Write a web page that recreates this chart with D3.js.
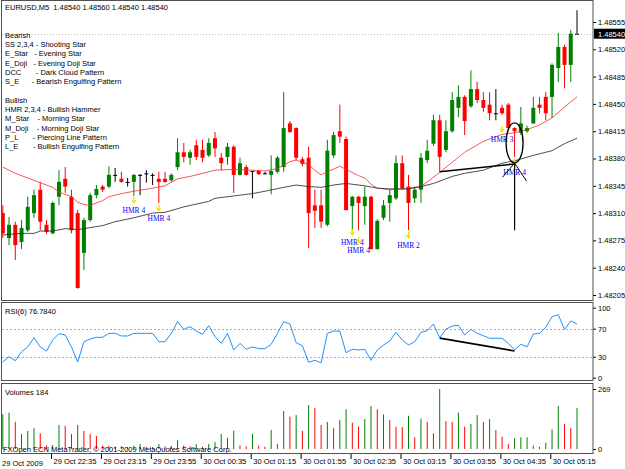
<!DOCTYPE html>
<html>
<head>
<meta charset="utf-8">
<script src="https://cdnjs.cloudflare.com/ajax/libs/d3/7.8.5/d3.min.js"></script>
<style>
  html, body { margin: 0; padding: 0; background: #fff; }
  svg { display: block; }
  text { font-family: "Liberation Sans", Arial, sans-serif; font-size: 7.5px; fill: #000; }
  .axis path.domain { display: none; }
  .axis line { stroke: #000; }
</style>
</head>
<body>
<svg id="chart" width="625" height="469"></svg>
<script>
// EURUSD M5, 93 bars, 29 Oct 22:00 .. 30 Oct 05:40
var opens  = [1.48310,1.48278,1.48295,1.48273,1.48288,1.48310,1.48340,1.48295,1.48284,1.48331,
              1.48354,1.48331,1.48310,1.48259,1.48301,1.48333,1.48344,1.48344,1.48359,1.48354,
              1.48350,1.48350,1.48359,1.48361,1.48359,1.48354,1.48354,1.48352,1.48369,1.48388,
              1.48381,1.48397,1.48391,1.48384,1.48406,1.48381,1.48382,1.48395,1.48359,1.48369,
              1.48364,1.48364,1.48361,1.48359,1.48363,1.48369,1.48425,1.48419,1.48379,1.48381,
              1.48320,1.48320,1.48295,1.48384,1.48415,1.48405,1.48319,1.48331,1.48319,1.48331,
              1.48264,1.48304,1.48323,1.48329,1.48374,1.48344,1.48329,1.48340,1.48378,1.48399,
              1.48429,1.48391,1.48415,1.48445,1.48459,1.48447,1.48469,1.48455,1.48449,1.48438,
              1.48445,1.48449,1.48419,1.48413,1.48415,1.48425,1.48449,1.48459,1.48459,1.48496,
              1.48523,1.48500,1.48540];
var highs  = [1.48320,1.48305,1.48299,1.48301,1.48331,1.48340,1.48350,1.48301,1.48325,1.48365,
              1.48369,1.48340,1.48314,1.48304,1.48336,1.48346,1.48346,1.48370,1.48368,1.48363,
              1.48355,1.48360,1.48360,1.48365,1.48361,1.48363,1.48363,1.48361,1.48406,1.48400,
              1.48391,1.48404,1.48404,1.48406,1.48414,1.48387,1.48400,1.48397,1.48381,1.48372,
              1.48364,1.48365,1.48363,1.48384,1.48383,1.48465,1.48428,1.48420,1.48382,1.48395,
              1.48340,1.48340,1.48404,1.48414,1.48449,1.48408,1.48332,1.48332,1.48344,1.48332,
              1.48302,1.48327,1.48340,1.48384,1.48384,1.48359,1.48344,1.48387,1.48404,1.48436,
              1.48436,1.48429,1.48465,1.48474,1.48461,1.48493,1.48478,1.48465,1.48465,1.48469,
              1.48449,1.48451,1.48420,1.48446,1.48422,1.48459,1.48459,1.48465,1.48502,1.48541,
              1.48526,1.48545,1.48570];
var lows   = [1.48278,1.48269,1.48250,1.48264,1.48286,1.48304,1.48288,1.48283,1.48283,1.48320,
              1.48336,1.48284,1.48213,1.48237,1.48299,1.48329,1.48337,1.48342,1.48350,1.48349,
              1.48344,1.48332,1.48333,1.48349,1.48346,1.48323,1.48349,1.48350,1.48365,1.48375,
              1.48372,1.48378,1.48375,1.48382,1.48382,1.48365,1.48372,1.48336,1.48358,1.48358,
              1.48329,1.48359,1.48360,1.48334,1.48361,1.48363,1.48413,1.48378,1.48370,1.48265,
              1.48291,1.48291,1.48293,1.48381,1.48400,1.48313,1.48288,1.48288,1.48295,1.48263,
              1.48263,1.48301,1.48299,1.48327,1.48340,1.48288,1.48323,1.48323,1.48374,1.48396,
              1.48363,1.48388,1.48413,1.48433,1.48410,1.48445,1.48451,1.48440,1.48429,1.48429,
              1.48436,1.48416,1.48382,1.48410,1.48413,1.48424,1.48438,1.48429,1.48432,1.48478,
              1.48470,1.48478,1.48540];
var closes = [1.48284,1.48295,1.48269,1.48291,1.48318,1.48333,1.48299,1.48286,1.48323,1.48350,
              1.48344,1.48288,1.48214,1.48301,1.48333,1.48341,1.48340,1.48359,1.48359,1.48350,
              1.48350,1.48359,1.48359,1.48361,1.48359,1.48350,1.48350,1.48359,1.48388,1.48382,
              1.48388,1.48382,1.48381,1.48400,1.48393,1.48374,1.48395,1.48359,1.48374,1.48359,
              1.48364,1.48360,1.48361,1.48364,1.48381,1.48419,1.48414,1.48381,1.48373,1.48310,
              1.48313,1.48299,1.48390,1.48410,1.48408,1.48314,1.48331,1.48323,1.48331,1.48264,
              1.48300,1.48320,1.48333,1.48374,1.48342,1.48323,1.48340,1.48381,1.48390,1.48429,
              1.48382,1.48415,1.48455,1.48459,1.48428,1.48469,1.48455,1.48445,1.48438,1.48438,
              1.48438,1.48419,1.48415,1.48425,1.48419,1.48445,1.48445,1.48438,1.48500,1.48523,
              1.48500,1.48540,1.48540];
var volumes = [156,163,122,67,81,93,70,16,18,108,104,67,108,81,67,58,16,14,10,12,
               8,15,22,10,9,22,12,14,40,16,12,22,10,22,31,67,51,82,16,12,
               69,15,10,85,22,170,145,152,81,197,184,108,121,93,130,178,118,100,134,193,
               178,155,130,100,98,149,52,137,122,70,269,125,122,163,100,112,152,122,134,85,
               55,22,48,52,53,15,10,28,88,193,112,93,184];
var rsiValues = [22.4,30,24.3,37,44,57,44,38,54,63,61,44,22.4,51.4,55.3,57.7,57.7,63.4,63.4,59.6,
                 59.6,63.4,63.4,63.4,63.4,51.4,51.4,63.4,80,69,72.9,66.7,62,74.3,58.6,49,63.4,39.6,49,40.6,
                 44,41.5,41.5,47.7,63.4,80,76.7,50,45.7,22,24.8,21.4,63.4,66.7,66.7,35.7,40.6,39.6,40.6,24.8,
                 39.6,46.7,52.4,64.8,53.9,46.7,51.4,64.8,67.1,76.7,57.1,69.1,73.9,74.8,61,69.1,63.4,60,56.3,56.3,
                 56.3,49,39.6,47.7,44,62.4,63.4,72,87.1,90,69.1,81,76.8];
// moving averages: [bar, price]
var maFast = [[0,1.48369],[2,1.48361],[5,1.48352],[8,1.48343],[9,1.48337],[11,1.48331],[12,1.48324],[13,1.48321],
              [14,1.48320],[16,1.48326],[17,1.48331],[19,1.48335],[21,1.48338],[24,1.48342],[26,1.48345],[28,1.48354],
              [30,1.48357],[33,1.48363],[34,1.48365],[37,1.48366],[40,1.48365],[42,1.48364],[44,1.48367],[46,1.48376],
              [47,1.48378],[49,1.48372],[50,1.48365],[51,1.48359],[52,1.48363],[54,1.48370],[55,1.48366],[57,1.48358],
              [58,1.48355],[59,1.48347],[60,1.48342],[62,1.48340],[64,1.48341],[67,1.48344],[69,1.48356],[72,1.48375],
              [74,1.48388],[77,1.48402],[80,1.48411],[82,1.48413],[84,1.48417],[86,1.48423],[88,1.48432],[90,1.48446],
              [92,1.48459]];
var maSlow = [[0,1.48282],[3,1.48284],[5,1.48284],[6,1.48287],[8,1.48287],[10,1.48290],[12,1.48289],[13,1.48290],
              [16,1.48294],[18,1.48299],[21,1.48304],[24,1.48310],[26,1.48311],[29,1.48318],[33,1.48325],[34,1.48329],
              [37,1.48332],[40,1.48335],[42,1.48338],[45,1.48343],[47,1.48346],[49,1.48344],[51,1.48343],[53,1.48346],
              [55,1.48348],[58,1.48345],[60,1.48342],[62,1.48341],[65,1.48341],[67,1.48344],[69,1.48348],[72,1.48357],
              [74,1.48361],[77,1.48365],[80,1.48374],[82,1.48377],[85,1.48384],[88,1.48390],[90,1.48399],[92,1.48406]];
var priceTicks = [1.48555,1.48520,1.48485,1.48450,1.48415,1.48380,1.48345,1.48310,1.48275,1.48240,1.48205];
var bidPrice = 1.48540;
var rsiTicks = [0,30,70,100];
var volTicks = [0,269];
var timeLabelBars = [7,15,23,31,39,47,55,63,71,79,87];
var timeLabels = ["29 Oct 22:35","29 Oct 23:15","29 Oct 23:55","30 Oct 00:35","30 Oct 01:15","30 Oct 01:55",
                  "30 Oct 02:35","30 Oct 03:15","30 Oct 03:55","30 Oct 04:35","30 Oct 05:15"];
var firstDate = "29 Oct 2009";
var markerBars   = [21,25,56,57,65,80,82];
var markerTexts  = ["HMR 4","HMR 4","HMR 4","HMR 4","HMR 2","HMR 3","HMR 4"];
var markerPrices = [1.48314,1.48304,1.48273,1.48263,1.48269,1.48405,1.48363];
var legendBearish = ["Bearish","SS 2,3,4 - Shooting Star","E_Star   - Evening Star","E_Doji   - Evening Doji Star",
                     "DCC       - Dark Cloud Pattern","S_E      - Bearish Engulfing Pattern"];
var legendBullish = ["Bullish","HMR 2,3,4 - Bullish Hammer","M_Star    - Morning Star","M_Doji    - Morning Doji Star",
                     "P_L       - Piercing Line Pattern","L_E       - Bullish Engulfing Pattern"];
// hand drawn annotations
var trendMain = [[70,1.48363],[82,1.48373]];
var trendRsi = [[70,56.5],[82,38.2]];
var arrowBar = 82, arrowFrom = 1.48288, arrowTo = 1.48374;
var ellipseBar = 82, ellipsePrice = 1.48400;

var svg = d3.select("#chart");
var right = 593;
var x = d3.scaleLinear().domain([0, 92]).range([2.8, 577]);
var y = d3.scaleLinear().domain([1.48205, 1.48555]).range([295, 22]);
var yRsi = d3.scaleLinear().domain([0, 100]).range([377.7, 307.7]);
var yVol = d3.scaleLinear().domain([0, 269]).range([449, 389]);
var bars = d3.range(opens.length);

svg.append("rect").attr("width", 625).attr("height", 469).attr("fill", "#fff");

var defs = svg.append("defs");
defs.append("clipPath").attr("id", "clipMain").append("rect").attr("x", 2).attr("y", 0).attr("width", right - 2).attr("height", 300);
defs.append("clipPath").attr("id", "clipRsi").append("rect").attr("x", 2).attr("y", 303).attr("width", right - 2).attr("height", 77);
defs.append("clipPath").attr("id", "clipVol").append("rect").attr("x", 2).attr("y", 384).attr("width", right - 2).attr("height", 69);

// ---- main panel
var main = svg.append("g").attr("clip-path", "url(#clipMain)");

main.append("line")
    .attr("x1", 2).attr("x2", right)
    .attr("y1", Math.round(y(bidPrice)) + 0.5).attr("y2", Math.round(y(bidPrice)) + 0.5)
    .attr("stroke", "#b8b8b8").attr("stroke-dasharray", "1,2");

var bw = 4;
function col(i) {
  if (closes[i] > opens[i]) return "#008000";
  if (closes[i] < opens[i]) return "#ff0000";
  return "#000";
}
main.selectAll("line.wick").data(bars).enter().append("line")
    .attr("class", "wick")
    .attr("x1", function(i) { return x(i); }).attr("x2", function(i) { return x(i); })
    .attr("y1", function(i) { return y(highs[i]); }).attr("y2", function(i) { return y(lows[i]); })
    .attr("stroke", col).attr("stroke-width", 1);
main.selectAll("rect.body").data(bars).enter().append("rect")
    .attr("class", "body")
    .attr("x", function(i) { return x(i) - bw / 2; })
    .attr("width", bw)
    .attr("y", function(i) { return y(Math.max(opens[i], closes[i])); })
    .attr("height", function(i) { return Math.max(1, Math.abs(y(opens[i]) - y(closes[i]))); })
    .attr("fill", col);

var maLine = d3.line().x(function(d) { return x(d[0]); }).y(function(d) { return y(d[1]); });
main.append("path").attr("d", maLine(maFast)).attr("fill", "none").attr("stroke", "#f03030").attr("stroke-width", 0.8);
main.append("path").attr("d", maLine(maSlow)).attr("fill", "none").attr("stroke", "#202020").attr("stroke-width", 0.8);

// pattern markers
markerBars.forEach(function(b, k) {
  var cx = x(b), ly = y(markerPrices[k]);
  var top = ly - 13;
  main.append("path")
      .attr("d", "M" + cx + "," + top + "V" + (top + 6) + "M" + (cx - 2) + "," + (top + 3) + "L" + cx + "," + (top + 6) + "L" + (cx + 2) + "," + (top + 3))
      .attr("fill", "none").attr("stroke", "#f0e000").attr("stroke-width", 1.2);
  main.append("text").attr("x", cx).attr("y", ly + 3)
      .attr("text-anchor", "middle")
      .style("font-family", "'Liberation Serif', 'Times New Roman', serif")
      .style("font-size", "7.5px")
      .style("fill", "#0000ff")
      .text(markerTexts[k]);
});

// annotations
main.append("line")
    .attr("x1", x(trendMain[0][0])).attr("y1", y(trendMain[0][1]))
    .attr("x2", x(trendMain[1][0])).attr("y2", y(trendMain[1][1]))
    .attr("stroke", "#000").attr("stroke-width", 1.6);
var ax = x(arrowBar), atop = y(arrowTo);
main.append("line").attr("x1", ax).attr("x2", ax).attr("y1", y(arrowFrom)).attr("y2", atop)
    .attr("stroke", "#000").attr("stroke-width", 1.2);
main.append("path").attr("d", "M" + (ax - 12) + "," + (atop + 14) + "L" + ax + "," + atop + "L" + (ax + 12) + "," + (atop + 18))
    .attr("fill", "none").attr("stroke", "#000").attr("stroke-width", 1);
main.append("ellipse").attr("cx", x(ellipseBar)).attr("cy", y(ellipsePrice)).attr("rx", 8.5).attr("ry", 20)
    .attr("fill", "none").attr("stroke", "#000").attr("stroke-width", 1.3);

// header and legend
svg.append("text").attr("x", 5).attr("y", 10).style("white-space", "pre")
   .text("EURUSD,M5  1.48540 1.48560 1.48540 1.48540");
svg.selectAll("text.lb").data(legendBearish).enter().append("text")
   .attr("class", "lb").attr("x", 5).attr("y", function(d, i) { return 37.8 + i * 9.3; })
   .style("white-space", "pre").text(function(d) { return d; });
svg.selectAll("text.lu").data(legendBullish).enter().append("text")
   .attr("class", "lu").attr("x", 5).attr("y", function(d, i) { return 102.8 + i * 9.3; })
   .style("white-space", "pre").text(function(d) { return d; });

// price axis
var yAxis = svg.append("g").attr("class", "axis").attr("transform", "translate(" + right + ",0)")
   .call(d3.axisRight(y).tickValues(priceTicks).tickSize(3).tickPadding(2).tickFormat(d3.format(".5f")));
var bidY = y(bidPrice);
svg.append("rect").attr("x", right + 1).attr("y", bidY - 5).attr("width", 32).attr("height", 10).attr("fill", "#000");
svg.append("text").attr("x", right + 5).attr("y", bidY + 3).style("fill", "#fff").text(d3.format(".5f")(bidPrice));

// ---- RSI panel
var rsiG = svg.append("g").attr("clip-path", "url(#clipRsi)");
[30, 70].forEach(function(v) {
  rsiG.append("line").attr("x1", 2).attr("x2", right)
     .attr("y1", Math.round(yRsi(v)) + 0.5).attr("y2", Math.round(yRsi(v)) + 0.5)
     .attr("stroke", "#b0b0b0").attr("stroke-dasharray", "2,2");
});
rsiG.append("path")
   .attr("d", d3.line().x(function(d, i) { return x(i); }).y(function(d) { return yRsi(d); })(rsiValues))
   .attr("fill", "none").attr("stroke", "#1e90ff").attr("stroke-width", 1);
rsiG.append("line")
   .attr("x1", x(trendRsi[0][0])).attr("y1", yRsi(trendRsi[0][1]))
   .attr("x2", x(trendRsi[1][0])).attr("y2", yRsi(trendRsi[1][1]))
   .attr("stroke", "#000").attr("stroke-width", 1.6);
svg.append("text").attr("x", 5).attr("y", 313.5).text("RSI(6) 76.7840");
svg.append("g").attr("class", "axis").attr("transform", "translate(" + right + ",0)")
   .call(d3.axisRight(yRsi).tickValues(rsiTicks).tickSize(3).tickPadding(2));

// ---- Volumes panel
var volG = svg.append("g").attr("clip-path", "url(#clipVol)");
volG.selectAll("line.vol").data(bars).enter().append("line")
   .attr("class", "vol")
   .attr("x1", function(i) { return x(i); }).attr("x2", function(i) { return x(i); })
   .attr("y1", yVol(0)).attr("y2", function(i) { return yVol(volumes[i]); })
   .attr("stroke", function(i) { return (i === 0 || volumes[i] > volumes[i - 1]) ? "#008000" : "#ff0000"; })
   .attr("stroke-width", 1);
svg.append("text").attr("x", 5).attr("y", 394.5).text("Volumes 184");
svg.append("g").attr("class", "axis").attr("transform", "translate(" + right + ",0)")
   .call(d3.axisRight(yVol).tickValues(volTicks).tickSize(3).tickPadding(2));
svg.append("text").attr("x", 3).attr("y", 452).text("FXOpen ECN MetaTrader, \u00a9 2001-2009 MetaQuotes Software Corp.");

// ---- panel frames
[[0.5, 300.5], [302.5, 380.5], [383.5, 453.5]].forEach(function(p) {
  svg.append("rect").attr("x", 1.5).attr("y", p[0]).attr("width", right - 1.5).attr("height", p[1] - p[0])
     .attr("fill", "none").attr("stroke", "#505050").attr("stroke-width", 1);
});

// ---- time axis
var tAxis = svg.append("g").attr("class", "axis").attr("transform", "translate(4.5,454)")
   .call(d3.axisBottom(x).tickValues(timeLabelBars).tickSize(5).tickFormat(function(d, i) { return timeLabels[i]; }));
tAxis.selectAll("text").attr("text-anchor", "start").attr("x", 2).attr("y", 5).attr("dy", "0.71em");
svg.append("text").attr("x", 2).attr("y", 466).text(firstDate);
svg.selectAll(".axis text").style("font-size", "7.5px").style("font-family", "'Liberation Sans', Arial, sans-serif");
</script>
</body>
</html>
